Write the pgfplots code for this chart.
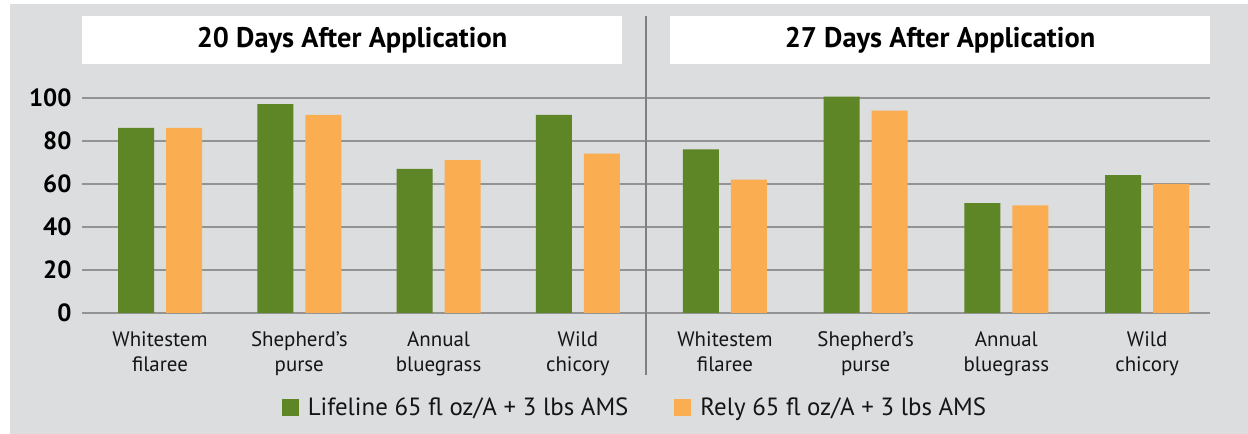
\documentclass[border=0pt]{standalone}
\usepackage{fontspec}
\setmainfont{PT Sans}
\usepackage{pgfplots}
\pgfplotsset{compat=1.18}
\definecolor{bg}{HTML}{DCDDDF}
\definecolor{lgreen}{HTML}{5E8526}
\definecolor{rorange}{HTML}{FBAD52}
\definecolor{gridc}{HTML}{939393}
\definecolor{sepc}{HTML}{808080}
\definecolor{txt}{HTML}{151515}

\pgfplotstableread{
x lifeline rely
0 86 86
1 97 92
2 67 71
3 92 74
}\dayA
\pgfplotstableread{
x lifeline rely
0 76 62
1 100.5 94
2 51 50
3 64 60
}\dayB

\pgfplotsset{
  panel/.style={
    scale only axis,
    height=236.8bp,
    ymin=0, ymax=110,
    ytick={0,20,40,60,80,100},
    ymajorgrids,
    grid style={gridc, line width=1.6bp},
    axis line style={draw=none},
    tick style={draw=none},
    xtick={0,1,2,3},
    xticklabels={Whitestem\\filaree, Shepherd’s\\purse, Annual\\bluegrass, Wild\\chicory},
    xticklabel style={align=center, text=txt, font=\fontsize{21}{25}\selectfont, yshift=-15bp},
    /pgf/number format/assume math mode=true,
    clip=false,
    anchor=south west,
  },
  gbar/.style={ybar, bar width=36bp, bar shift=-24bp, fill=lgreen, draw=none},
  obar/.style={ybar, bar width=36bp, bar shift=24bp, fill=rorange, draw=none},
}

\begin{document}
\begin{tikzpicture}[x=1bp,y=1bp]
\path[use as bounding box] (0,0) rectangle (1248,434);
\fill[bg] (10,0) rectangle (1248,430);
\fill[white] (82,370) rectangle (622,418);
\fill[white] (670,370) rectangle (1210,418);
\node[font=\fontsize{28.5}{31}\selectfont\bfseries, text=black] at (352,394) {20 Days After Application};
\node[font=\fontsize{28.5}{31}\selectfont\bfseries, text=black] at (940,394) {27 Days After Application};

\begin{axis}[panel,
  at={(82bp,121bp)},
  width=563.7bp,
  xmin=-0.56, xmax=3.487,
  yticklabel style={font=\fontsize{25}{28}\selectfont\bfseries, text=black, anchor=east, xshift=-7bp},
  legend columns=2,
  legend style={at={(0.981,-0.399)}, anchor=center, draw=none, fill=none,
    font=\fontsize{25}{28}\selectfont, text=txt,
    /tikz/every even column/.append style={column sep=44bp}},
  legend image code/.code={\fill[#1] (0bp,-8.5bp) rectangle (17bp,8.5bp); \path (24bp,0bp);},
]
\addplot[gbar] table[x=x, y=lifeline] {\dayA};
\addlegendentry{Lifeline 65 fl oz/A + 3 lbs AMS}
\addplot[obar] table[x=x, y=rely] {\dayA};
\addlegendentry{Rely 65 fl oz/A + 3 lbs AMS}
\end{axis}

\begin{axis}[panel,
  at={(646bp,121bp)},
  width=564bp,
  xmin=-0.561, xmax=3.447,
  yticklabels={},
]
\addplot[gbar] table[x=x, y=lifeline] {\dayB};
\addplot[obar] table[x=x, y=rely] {\dayB};
\end{axis}

\draw[sepc, line width=2bp] (646,418) -- (646,59);
\end{tikzpicture}
\end{document}
